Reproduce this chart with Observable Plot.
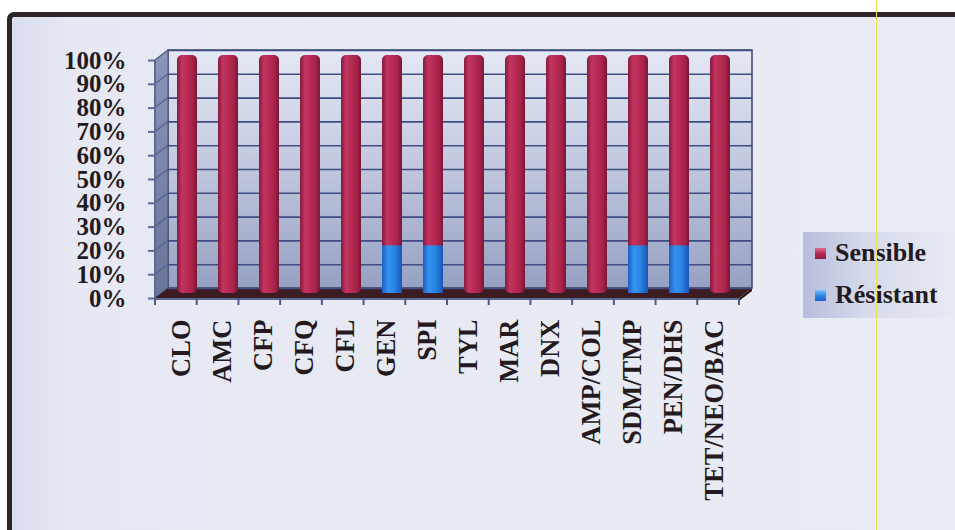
<!DOCTYPE html>
<html>
<head>
<meta charset="utf-8">
<script src="https://cdn.jsdelivr.net/npm/d3@7"></script>
<script src="https://cdn.jsdelivr.net/npm/@observablehq/plot@0.6"></script>
<style>
  html, body { margin: 0; padding: 0; background: #ffffff; width: 955px; height: 530px; overflow: hidden; }
  #frame { position: absolute; left: 7px; top: 12px; width: 1010px; height: 600px;
    border: 5px solid #2c2427; border-radius: 7px;
    background: linear-gradient(to right, #d9dded 0%, #e6e9f3 6%, #e9ecf4 100%); }
  #chart { position: absolute; left: 0; top: 0; }
  #legend { position: absolute; left: 803px; top: 232px; width: 160px; height: 86px;
    background: linear-gradient(to right, #b7bedb 0%, #d6dbec 40%, #e9ecf4 100%);
    font-family: "Liberation Serif", "Times New Roman", serif; font-weight: bold; font-size: 26px; color: #24191d; }
  .item { position: absolute; left: 12px; display: flex; align-items: center; white-space: nowrap; }
  .sw { width: 11px; height: 11px; margin-right: 9px; }
  #yline { position: absolute; left: 876px; top: 0; width: 1px; height: 530px; background: #eee04a; }
</style>
</head>
<body>
<div id="frame"></div>
<div id="chart"></div>
<div id="legend"></div>
<div id="yline"></div>
<script>
// ---- data ----
const categories = ["CLO","AMC","CFP","CFQ","CFL","GEN","SPI","TYL","MAR","DNX","AMP/COL","SDM/TMP","PEN/DHS","TET/NEO/BAC"];
const sensible   = [100,100,100,100,100,80,80,100,100,100,100,80,80,100];
const resistant  = [0,0,0,0,0,20,20,0,0,0,0,20,20,0];
const seriesNames = ["Sensible", "Résistant"];
const yTicks = [0,0.1,0.2,0.3,0.4,0.5,0.6,0.7,0.8,0.9,1];

const rows = categories.map((c, i) => ({cat: c, sens: sensible[i] / 100, res: resistant[i] / 100}));

const W = 955, H = 530;
const mL = 155, mR = 216, mT = 60, mB = 232;
const depth = [13, -10];         // 3D depth of walls
const half = [6, -5];            // bars stand in the middle of the depth
const font = '"Liberation Serif", "Times New Roman", serif';

function walls(index, scales, values, dims) {
  const y0 = scales.y(0), y1 = scales.y(1);
  const x0 = dims.marginLeft, x1 = dims.width - dims.marginRight;
  const [dx, dy] = depth;
  const g = d3.create("svg:g");
  g.append("rect").attr("x", x0 + dx).attr("y", y1 + dy).attr("width", x1 - x0).attr("height", y0 - y1)
    .attr("fill", "url(#wallGrad)").attr("stroke", "#3b4366").attr("stroke-width", 1.5);
  g.append("polygon").attr("points", [[x0, y1], [x0 + dx, y1 + dy], [x0 + dx, y0 + dy], [x0, y0]].join(" "))
    .attr("fill", "url(#sideGrad)").attr("stroke", "#4a5378").attr("stroke-width", 1);
  for (const t of yTicks) {
    const yy = scales.y(t);
    g.append("line").attr("x1", x0).attr("y1", yy).attr("x2", x0 + dx).attr("y2", yy + dy)
      .attr("stroke", "#556088").attr("stroke-width", 1.2);
  }
  g.append("polygon").attr("points", [[x0, y0], [x0 + dx, y0 + dy], [x1 + dx, y0 + dy], [x1, y0]].join(" "))
    .attr("fill", "#3d1c21");
  g.append("polygon").attr("points", [[x1, y0], [x1 + dx, y0 + dy], [x1 + dx, y0 + dy + 3], [x1, y0 + 3]].join(" "))
    .attr("fill", "#2a1418");
  return g.node();
}

function xAxisTicks(index, scales, values, dims) {
  const y0 = scales.y(0);
  const x0 = dims.marginLeft, x1 = dims.width - dims.marginRight;
  const step = (x1 - x0) / categories.length;
  const g = d3.create("svg:g");
  g.append("line").attr("x1", x0).attr("x2", x1).attr("y1", y0 + 1).attr("y2", y0 + 1)
    .attr("stroke", "#5d6a96").attr("stroke-width", 2);
  for (let k = 0; k <= categories.length; k++) {
    g.append("line").attr("x1", x0 + k * step).attr("x2", x0 + k * step).attr("y1", y0).attr("y2", y0 + 7)
      .attr("stroke", "#4c5a8a").attr("stroke-width", 2);
  }
  g.append("line").attr("x1", x0).attr("x2", x0).attr("y1", scales.y(1)).attr("y2", y0)
    .attr("stroke", "#5d6a96").attr("stroke-width", 2);
  return g.node();
}

const plot = Plot.plot({
  width: W, height: H,
  marginLeft: mL, marginRight: mR, marginTop: mT, marginBottom: mB,
  style: {background: "transparent", overflow: "visible"},
  x: {type: "band", domain: categories, paddingInner: 0.52, paddingOuter: 0.26},
  y: {domain: [0, 1]},
  marks: [
    walls,
    Plot.ruleY(yTicks, {y: d => d, dx: depth[0], dy: depth[1], stroke: "#3e4c82", strokeWidth: 1.6}),
    xAxisTicks,
    Plot.barY(rows, {x: "cat", y1: 0, y2: d => d.sens + d.res, fill: "url(#redGrad)", dx: half[0], dy: half[1], rx: 5}),
    Plot.barY(rows, {x: "cat", y1: 0, y2: "res", fill: "url(#blueGrad)", dx: half[0], dy: half[1]}),
    Plot.axisY({ticks: yTicks, tickFormat: d3.format(".0%"), tickSize: 7, tickPadding: 22,
      fontSize: 25, fontWeight: "bold", fontFamily: font, fill: "#24191d", stroke: "#5d6a96", strokeWidth: 2, label: null}),
    Plot.axisX({tickRotate: -90, tickSize: 0, tickPadding: 21, fontSize: 26.5, fontWeight: "bold",
      fontFamily: font, fill: "#24191d", label: null})
  ]
});

const svg = d3.select(plot);
const defs = svg.insert("defs", ":first-child");
function hGrad(id, stops, vertical) {
  const lg = defs.append("linearGradient").attr("id", id)
    .attr("x1", 0).attr("y1", 0).attr("x2", vertical ? 0 : 1).attr("y2", vertical ? 1 : 0);
  stops.forEach(([o, c]) => lg.append("stop").attr("offset", o).attr("stop-color", c));
}
hGrad("redGrad", [[0, "#861a3c"], [0.25, "#c23560"], [0.5, "#b92c55"], [0.8, "#a32248"], [1, "#7c1534"]]);
hGrad("blueGrad", [[0, "#1c5fc4"], [0.3, "#3592f0"], [0.6, "#2b86e6"], [1, "#1a56b4"]]);
hGrad("wallGrad", [[0, "#e4e8f3"], [0.35, "#ccd2e6"], [1, "#96a0c2"]], true);
hGrad("sideGrad", [[0, "#8a95ba"], [1, "#6a7499"]], true);

document.getElementById("chart").appendChild(plot);

const legend = d3.select("#legend");
const swatch = {"Sensible": "linear-gradient(to bottom, #e06a8c, #b52a55 50%, #8e1c40)",
                "Résistant": "linear-gradient(to bottom, #7cc0ff, #2f88e8 50%, #1c5fc4)"};
seriesNames.forEach((name, i) => {
  const it = legend.append("div").attr("class", "item").style("top", (i === 0 ? 6 : 48) + "px");
  it.append("div").attr("class", "sw").style("background", swatch[name]);
  it.append("span").text(name);
});
</script>
</body>
</html>
